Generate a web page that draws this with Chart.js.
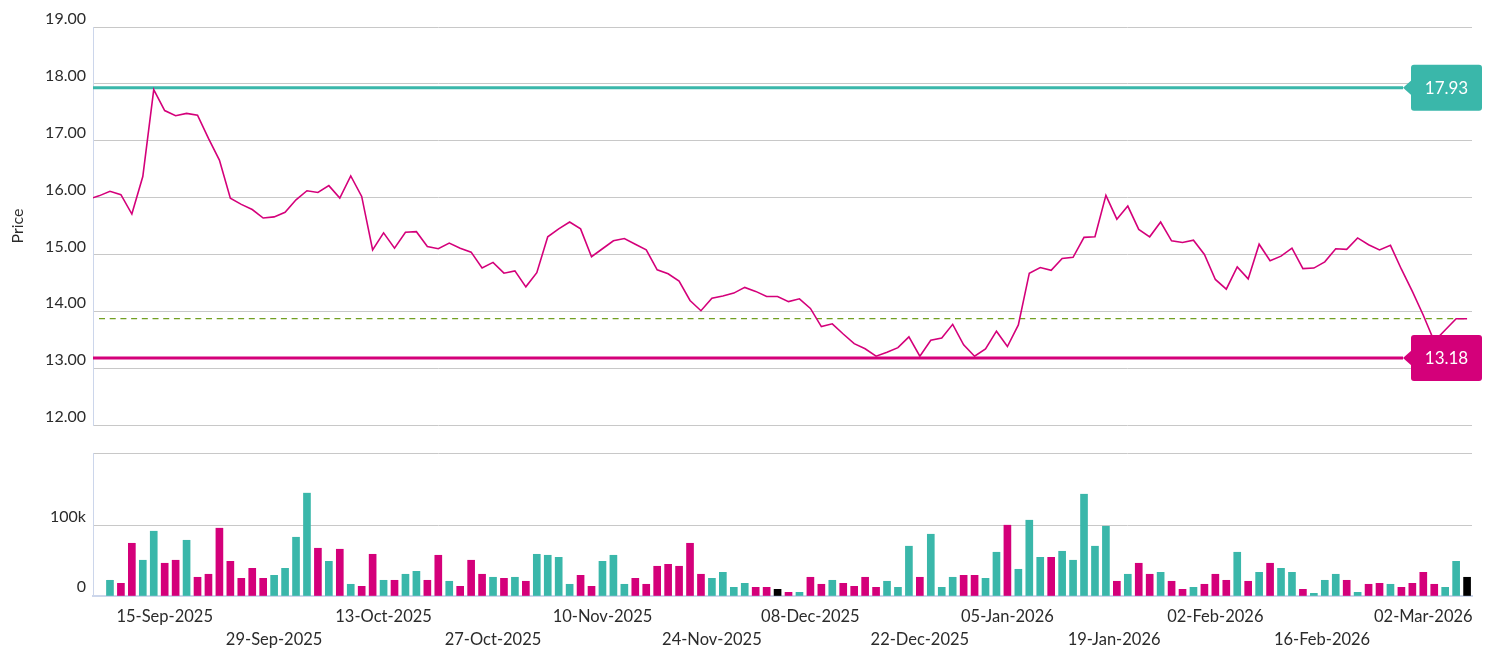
<!DOCTYPE html>
<html>
<head>
<meta charset="utf-8">
<script src="https://cdn.jsdelivr.net/npm/chart.js@4.4.1/dist/chart.umd.min.js"></script>
<style>
html,body{margin:0;padding:0;background:#ffffff;}
#wrap{position:relative;width:1489px;height:653px;overflow:hidden;}
#pbox{position:absolute;left:0;top:0;width:1489px;height:440px;}
#vbox{position:absolute;left:0;top:440px;width:1489px;height:213px;}
</style>
</head>
<body>
<div id="wrap">
  <div id="pbox"><canvas id="pc"></canvas></div>
  <div id="vbox"><canvas id="vc"></canvas></div>
</div>
<script>
// ---------------- DATA ----------------
const firstDay = '2025-09-04';
const lastDay = '2026-03-06';
const holidays = ['2025-11-27', '2025-12-25', '2026-01-01', '2026-01-19', '2026-02-16'];

// daily closing prices, one per trading day from firstDay to lastDay
const closes = [15.97, 16.03,
  16.11, 16.05, 15.71, 16.37, 17.90, 17.53, 17.44, 17.48, 17.45, 17.04,
  16.66, 15.99, 15.88, 15.79, 15.64, 15.66, 15.74, 15.96, 16.12, 16.09,
  16.21, 15.99, 16.38, 16.02, 15.08, 15.38, 15.11, 15.39, 15.40, 15.14,
  15.10, 15.20, 15.11, 15.04, 14.76, 14.86, 14.67, 14.71, 14.43, 14.68,
  15.31, 15.45, 15.57, 15.45, 14.96, 15.10, 15.24, 15.28, 15.18, 15.08,
  14.73, 14.66, 14.53, 14.19, 14.01, 14.23, 14.27, 14.32, 14.42, 14.35,
  14.26, 14.26, 14.17, 14.22, 14.05, 13.73, 13.78, 13.60, 13.43, 13.34,
  13.21, 13.28, 13.36, 13.55, 13.21, 13.49, 13.53, 13.77, 13.41, 13.21,
  13.34, 13.65, 13.38, 13.76, 14.67, 14.77, 14.72, 14.93, 14.95, 15.30,
  15.31, 16.04, 15.62, 15.85, 15.44, 15.31, 15.57, 15.24, 15.21, 15.25,
  15.00, 14.56, 14.39, 14.78, 14.57, 15.18, 14.89, 14.97, 15.11, 14.75,
  14.76, 14.87, 15.10, 15.09, 15.29, 15.17, 15.08, 15.16, 14.74, 14.35,
  13.93, 13.47, 13.67, 13.87, 13.87];

// daily volume, starting at volumeStart
const volumeStart = '2025-09-08';
const volumes = [
  22400, 18100, 75200, 51000, 92400, 46700, 51000, 79500, 26700, 31000,
  96700, 49500, 25200, 39500, 25200, 29500, 39500, 83800, 146700, 68100,
  49500, 66700, 16700, 13800, 59500, 22400, 22400, 31000, 35200, 22400,
  58100, 21000, 13800, 51000, 31000, 26700, 25200, 26700, 21000, 59500,
  58100, 55200, 16700, 29500, 13800, 49500, 58100, 16700, 25200, 16700,
  42400, 45200, 42400, 75200, 31000, 25200, 33800, 12400, 18100, 12400,
  12400, 9500, 5200, 5200, 26700, 16700, 22400, 18100, 13800, 26700,
  12400, 21000, 12400, 71000, 26700, 88100, 12400, 26700, 29500, 29500,
  25200, 62400, 101000, 38100, 108100, 55200, 55200, 63800, 51000, 145200,
  71000, 99500, 21000, 31000, 46700, 31000, 33800, 21000, 9500, 12400,
  16700, 31000, 22400, 62400, 21000, 33800, 46700, 39500, 33800, 9500,
  3800, 22400, 31000, 22400, 5200, 16700, 18100, 16700, 12400, 18100,
  33800, 16700, 12400, 49500, 26700];

const tickDates = ['2025-09-15', '2025-09-29', '2025-10-13', '2025-10-27', '2025-11-10',
  '2025-11-24', '2025-12-08', '2025-12-22', '2026-01-05', '2026-01-19',
  '2026-02-02', '2026-02-16', '2026-03-02'];
const priceTicks = [12, 13, 14, 15, 16, 17, 18, 19];
const volumeTicks = [0, 100000];
const volumeTop = 204000;
const highValue = 17.93;
const lowValue = 13.18;
const refStart = '2025-09-05';

// ---------------- HELPERS ----------------
const TEAL = '#3ab7aa', MAGENTA = '#d4007a', OLIVE = '#72a022', GRID = '#c8c8c8', AXIS = '#ccd6eb', TXT = '#2b2b2b';
const MON = ['Jan','Feb','Mar','Apr','May','Jun','Jul','Aug','Sep','Oct','Nov','Dec'];
const toT = s => Date.parse(s + 'T00:00:00Z');

function buildDays() {
  const out = [];
  for (let t = toT(firstDay); t <= toT(lastDay); t += 86400000) {
    const d = new Date(t), w = d.getUTCDay(), s = d.toISOString().slice(0, 10);
    if (w !== 0 && w !== 6 && !holidays.includes(s)) out.push(s);
  }
  return out;
}
const days = buildDays();
function fmt(s) { const p = s.split('-'); return p[2] + '-' + MON[+p[1] - 1] + '-' + p[0]; }
function ordinalPos(s) {
  const k = days.indexOf(s);
  if (k >= 0) return k;
  const t = toT(s);
  const j = days.findIndex(d => toT(d) > t);
  const t0 = toT(days[j - 1]), t1 = toT(days[j]);
  return j - 1 + (t - t0) / (t1 - t0);
}

const vStart = days.indexOf(volumeStart);
const lastIdx = days.length - 1;
const xMin = vStart - 1.55, xMax = lastIdx + 0.45;
const tickPos = tickDates.map(ordinalPos);

const pricePoints = closes.map((c, i) => ({ x: i, y: c }));
const lastClose = closes[closes.length - 1];
const refPoints = [{ x: days.indexOf(refStart), y: lastClose }, { x: lastIdx, y: lastClose }];
const volPoints = volumes.map((v, i) => ({ x: vStart + i, y: v }));
const volColors = volumes.map((v, i) => {
  const j = vStart + i, d = closes[j] - closes[j - 1];
  return d > 0.0001 ? TEAL : (d < -0.0001 ? MAGENTA : '#000000');
});

Chart.defaults.font.family = "Lato, 'Noto Sans', sans-serif";
Chart.defaults.color = TXT;
Chart.defaults.animation = false;

const levels = [{ value: highValue, color: TEAL }, { value: lowValue, color: MAGENTA }];
const levelPlugin = {
  id: 'levels',
  beforeDatasetsDraw(chart) {
    const { ctx, chartArea, scales: { y } } = chart;
    const tip = chart.width - 86;
    levels.forEach(l => {
      const py = y.getPixelForValue(l.value);
      ctx.save();
      ctx.strokeStyle = l.color; ctx.lineWidth = 3;
      ctx.beginPath(); ctx.moveTo(chartArea.left, py); ctx.lineTo(tip, py); ctx.stroke();
      ctx.restore();
    });
  },
  afterDatasetsDraw(chart) {
    const { ctx, scales: { y } } = chart;
    const tip = chart.width - 86, bx = tip + 8, bw = 71, bh = 46;
    levels.forEach(l => {
      const py = y.getPixelForValue(l.value);
      ctx.save();
      ctx.fillStyle = l.color;
      ctx.beginPath(); ctx.roundRect(bx, py - bh / 2, bw, bh, 3); ctx.fill();
      ctx.beginPath(); ctx.moveTo(tip, py); ctx.lineTo(bx + 1, py - 8); ctx.lineTo(bx + 1, py + 8); ctx.closePath(); ctx.fill();
      ctx.fillStyle = '#ffffff';
      ctx.font = "17px Lato, 'Noto Sans', sans-serif";
      ctx.textAlign = 'center'; ctx.textBaseline = 'middle';
      ctx.fillText(l.value.toFixed(2), bx + bw / 2, py + 1);
      ctx.restore();
    });
  }
};

const fixY = s => { s.width = 93; s.paddingTop = 0; s.paddingBottom = 0; };

// ---------------- PRICE CHART ----------------
new Chart(document.getElementById('pc'), {
  type: 'line',
  data: {
    datasets: [
      { data: pricePoints, borderColor: MAGENTA, borderWidth: 1.6, pointRadius: 0, tension: 0, fill: false },
      { data: refPoints, borderColor: OLIVE, borderWidth: 1.3, borderDash: [6, 4.7], pointRadius: 0, fill: false }
    ]
  },
  options: {
    responsive: true, maintainAspectRatio: false,
    layout: { padding: { left: 0, right: 17, top: 27, bottom: 15 } },
    plugins: { legend: { display: false }, tooltip: { enabled: false } },
    scales: {
      x: { type: 'linear', min: xMin, max: xMax, display: false },
      y: {
        min: priceTicks[0], max: priceTicks[priceTicks.length - 1],
        afterBuildTicks: s => { s.ticks = priceTicks.map(v => ({ value: v })); },
        afterFit: fixY,
        grid: { color: GRID, lineWidth: 1, drawTicks: false },
        border: { color: AXIS, width: 1 },
        ticks: { font: { size: 16 }, color: TXT, padding: 7, labelOffset: -8, callback: v => Number(v).toFixed(2) },
        title: { display: true, text: 'Price', font: { size: 16 }, color: TXT, padding: { top: 8, bottom: 0 } }
      }
    }
  },
  plugins: [levelPlugin]
});

// ---------------- VOLUME CHART ----------------
new Chart(document.getElementById('vc'), {
  type: 'bar',
  data: { datasets: [{ data: volPoints, backgroundColor: volColors, barThickness: 7, borderWidth: 0 }] },
  options: {
    responsive: true, maintainAspectRatio: false,
    layout: { padding: { left: 0, right: 17, top: 13, bottom: 0 } },
    plugins: { legend: { display: false }, tooltip: { enabled: false } },
    scales: {
      x: {
        type: 'linear', min: xMin, max: xMax, offset: false,
        afterBuildTicks: s => { s.ticks = tickPos.map(v => ({ value: v })); },
        afterFit: s => { s.height = 57; s.paddingLeft = 0; s.paddingRight = 0; },
        grid: { display: false, drawTicks: false },
        border: { display: true, color: AXIS, width: 2 },
        ticks: {
          autoSkip: false, maxRotation: 0, minRotation: 0, padding: 9,
          font: { size: 16.5, lineHeight: 1.42 }, color: TXT,
          callback: (v, idx) => idx % 2 ? ['', fmt(tickDates[idx])] : fmt(tickDates[idx])
        }
      },
      y: {
        min: 0, max: volumeTop,
        afterBuildTicks: s => { s.ticks = volumeTicks.concat([volumeTop]).map(v => ({ value: v })); },
        afterFit: fixY,
        grid: { color: GRID, lineWidth: 1, drawTicks: false },
        border: { color: AXIS, width: 1 },
        ticks: {
          font: { size: 16 }, color: TXT, padding: 7, labelOffset: -9,
          callback: v => v === 0 ? '0' : (v === 100000 ? '100k' : '')
        }
      }
    }
  }
});
</script>
</body>
</html>
